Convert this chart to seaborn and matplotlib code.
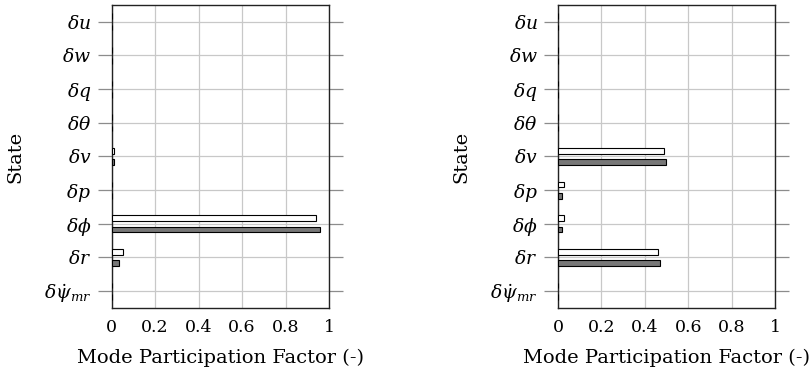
import matplotlib

matplotlib.use("Agg")

import matplotlib.pyplot as plt
import pandas as pd
import seaborn as sns

STATES = [
    r"$\delta u$",
    r"$\delta w$",
    r"$\delta q$",
    r"$\delta\theta$",
    r"$\delta v$",
    r"$\delta p$",
    r"$\delta\phi$",
    r"$\delta r$",
    r"$\delta\dot{\psi}_{mr}$",
]
SERIES = ["Model A", "Model B"]

# left panel
left_a = [0.001, 0.001, 0.002, 0.002, 0.012, 0.003, 0.939, 0.050, 0.001]
left_b = [0.001, 0.001, 0.002, 0.002, 0.010, 0.003, 0.959, 0.035, 0.001]

# right panel
right_a = [0.001, 0.001, 0.001, 0.001, 0.490, 0.029, 0.026, 0.459, 0.001]
right_b = [0.001, 0.001, 0.001, 0.001, 0.496, 0.020, 0.018, 0.470, 0.001]

X_TICKS = [0, 0.2, 0.4, 0.6, 0.8, 1]
X_TICK_LABELS = ["0", "0.2", "0.4", "0.6", "0.8", "1"]


def build_frame(values_a: list[float], values_b: list[float]) -> pd.DataFrame:
    rows = []
    for name, values in zip(SERIES, [values_a, values_b]):
        for state, value in zip(STATES, values):
            rows.append({"state": state, "series": name, "value": value})
    return pd.DataFrame(rows)


def draw_panel(ax: plt.Axes, dataframe: pd.DataFrame) -> None:
    sns.barplot(
        data=dataframe,
        y="state",
        x="value",
        hue="series",
        order=STATES,
        hue_order=SERIES,
        orient="h",
        palette=["white", "#777777"],
        edgecolor="black",
        linewidth=0.8,
        width=0.68,
        gap=0.52,
        legend=False,
        ax=ax,
        zorder=3,
    )
    ax.set_xlim(0, 1)
    ax.set_ylim(8.5, -0.5)
    ax.set_xticks(X_TICKS)
    ax.set_xticklabels(X_TICK_LABELS)
    ax.grid(True, color="#c8c8c8", linewidth=0.9, zorder=0)
    ax.set_axisbelow(True)
    ax.tick_params(axis="x", length=0, pad=8, labelsize=12.5, labelcolor="black")
    ax.tick_params(
        axis="y",
        left=True,
        right=True,
        direction="out",
        length=10,
        width=0.9,
        color="#8c8c8c",
        pad=4.7,
        labelsize=13.5,
        labelcolor="black",
    )
    for spine in ax.spines.values():
        spine.set_color("#222222")
        spine.set_linewidth(1.0)
    ax.set_xlabel(
        "Mode Participation Factor (-)", fontsize=14, labelpad=9, color="black"
    )
    ax.set_ylabel("State", fontsize=14, labelpad=14, color="black")


def main() -> None:
    sns.set_theme(style="white")
    plt.rcParams["font.family"] = ["DejaVu Serif"]
    plt.rcParams["mathtext.fontset"] = "dejavuserif"

    fig = plt.figure(figsize=(8.1, 3.73), dpi=100)
    ax_left = fig.add_axes([0.1379, 0.1743, 0.2683, 0.8123])
    ax_right = fig.add_axes([0.6889, 0.1743, 0.2683, 0.8123])

    draw_panel(ax_left, build_frame(left_a, left_b))
    draw_panel(ax_right, build_frame(right_a, right_b))

    fig.savefig("out.png", dpi=100)
    plt.close(fig)


if __name__ == "__main__":
    main()
